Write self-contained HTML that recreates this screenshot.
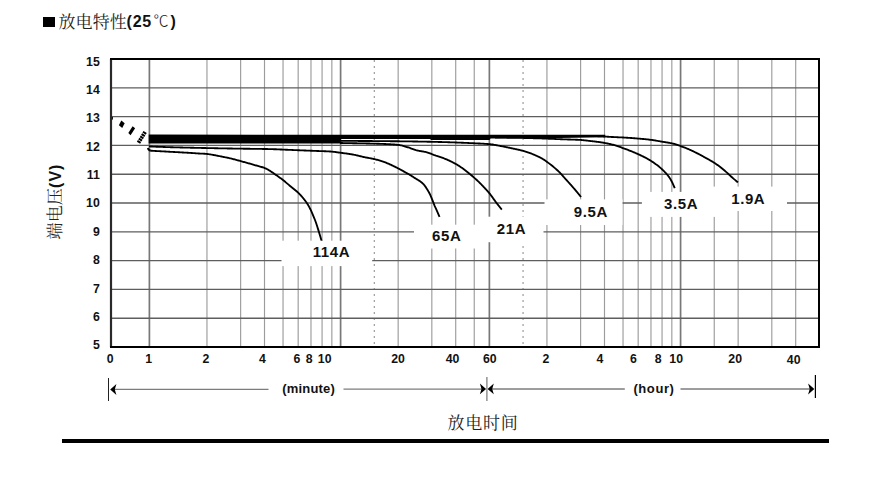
<!DOCTYPE html>
<html><head><meta charset="utf-8"><style>
html,body{margin:0;padding:0;background:#fff;width:880px;height:482px;overflow:hidden}
svg{position:absolute;left:0;top:0}
.ax{font-family:"Liberation Sans",Arial,sans-serif;font-weight:bold;font-size:12.3px;fill:#111}
.cl{font-family:"Liberation Sans",Arial,sans-serif;font-weight:bold;font-size:15px;fill:#111;letter-spacing:0.6px}
.mh{font-family:"Liberation Sans",Arial,sans-serif;font-weight:bold;font-size:13px;fill:#111;letter-spacing:0.4px}
.t{position:absolute;white-space:nowrap;color:#111;line-height:1}
.cj{font-family:"Liberation Serif","Noto Serif CJK SC",serif;font-size:17px;color:#222}
.bd{font-family:"Liberation Sans",Arial,sans-serif;font-weight:bold;font-size:16px}
#sq{position:absolute;left:43.1px;top:16.6px;width:11.6px;height:10.3px;background:#000}
#ylab{left:17.5px;top:194.1px;width:74px;transform:rotate(-90deg);transform-origin:center center}
#rule{position:absolute;left:62px;top:439px;width:767px;height:4px;background:#000}
</style></head><body>
<div id="sq"></div>
<div class="t cj" style="left:58.5px;top:13.5px;letter-spacing:0.1px">放电特性</div>
<div class="t bd" style="left:126.5px;top:14.4px;letter-spacing:0.8px">(25</div>
<div class="t" style="left:153.6px;top:13px;font-family:'Liberation Sans','Noto Sans CJK SC',sans-serif;font-size:15px;font-weight:300">℃</div>
<div class="t bd" style="left:170.4px;top:14.4px">)</div>
<div class="t" id="ylab"><span class="cj" style="letter-spacing:0.2px">端电压</span><span class="bd" style="letter-spacing:1px">(V)</span></div>
<svg width="880" height="482" viewBox="0 0 880 482">
<line x1="206.96" y1="59" x2="206.96" y2="347" stroke="#9c9c9c" stroke-width="1.15"/>
<line x1="240.63" y1="59" x2="240.63" y2="347" stroke="#9c9c9c" stroke-width="1.15"/>
<line x1="264.51" y1="59" x2="264.51" y2="347" stroke="#9c9c9c" stroke-width="1.15"/>
<line x1="283.04" y1="59" x2="283.04" y2="347" stroke="#9c9c9c" stroke-width="1.15"/>
<line x1="298.18" y1="59" x2="298.18" y2="347" stroke="#9c9c9c" stroke-width="1.15"/>
<line x1="310.98" y1="59" x2="310.98" y2="347" stroke="#9c9c9c" stroke-width="1.15"/>
<line x1="322.07" y1="59" x2="322.07" y2="347" stroke="#9c9c9c" stroke-width="1.15"/>
<line x1="331.85" y1="59" x2="331.85" y2="347" stroke="#9c9c9c" stroke-width="1.15"/>
<line x1="398.16" y1="59" x2="398.16" y2="347" stroke="#9c9c9c" stroke-width="1.15"/>
<line x1="431.83" y1="59" x2="431.83" y2="347" stroke="#9c9c9c" stroke-width="1.15"/>
<line x1="455.71" y1="59" x2="455.71" y2="347" stroke="#9c9c9c" stroke-width="1.15"/>
<line x1="474.24" y1="59" x2="474.24" y2="347" stroke="#9c9c9c" stroke-width="1.15"/>
<line x1="546.94" y1="59" x2="546.94" y2="347" stroke="#9c9c9c" stroke-width="1.15"/>
<line x1="580.61" y1="59" x2="580.61" y2="347" stroke="#9c9c9c" stroke-width="1.15"/>
<line x1="604.50" y1="59" x2="604.50" y2="347" stroke="#9c9c9c" stroke-width="1.15"/>
<line x1="623.03" y1="59" x2="623.03" y2="347" stroke="#9c9c9c" stroke-width="1.15"/>
<line x1="638.17" y1="59" x2="638.17" y2="347" stroke="#9c9c9c" stroke-width="1.15"/>
<line x1="650.97" y1="59" x2="650.97" y2="347" stroke="#9c9c9c" stroke-width="1.15"/>
<line x1="662.05" y1="59" x2="662.05" y2="347" stroke="#9c9c9c" stroke-width="1.15"/>
<line x1="671.83" y1="59" x2="671.83" y2="347" stroke="#9c9c9c" stroke-width="1.15"/>
<line x1="714.25" y1="59" x2="714.25" y2="347" stroke="#9c9c9c" stroke-width="1.15"/>
<line x1="738.14" y1="59" x2="738.14" y2="347" stroke="#9c9c9c" stroke-width="1.15"/>
<line x1="771.81" y1="59" x2="771.81" y2="347" stroke="#9c9c9c" stroke-width="1.15"/>
<line x1="795.70" y1="59" x2="795.70" y2="347" stroke="#9c9c9c" stroke-width="1.15"/>
<line x1="149.40" y1="59" x2="149.40" y2="347" stroke="#787878" stroke-width="1.7"/>
<line x1="340.60" y1="59" x2="340.60" y2="347" stroke="#787878" stroke-width="1.7"/>
<line x1="489.38" y1="59" x2="489.38" y2="347" stroke="#787878" stroke-width="1.7"/>
<line x1="680.58" y1="59" x2="680.58" y2="347" stroke="#787878" stroke-width="1.7"/>
<line x1="374.27" y1="60" x2="374.27" y2="346" stroke="#888" stroke-width="1" stroke-dasharray="2 4"/>
<line x1="523.05" y1="60" x2="523.05" y2="346" stroke="#888" stroke-width="1" stroke-dasharray="2 4"/>
<line x1="111" y1="318.20" x2="819" y2="318.20" stroke="#5e5e5e" stroke-width="1.35"/>
<line x1="111" y1="289.40" x2="819" y2="289.40" stroke="#5e5e5e" stroke-width="1.35"/>
<line x1="111" y1="260.60" x2="819" y2="260.60" stroke="#5e5e5e" stroke-width="1.35"/>
<line x1="111" y1="231.80" x2="819" y2="231.80" stroke="#5e5e5e" stroke-width="1.35"/>
<line x1="111" y1="203.00" x2="819" y2="203.00" stroke="#5e5e5e" stroke-width="1.35"/>
<line x1="111" y1="174.20" x2="819" y2="174.20" stroke="#5e5e5e" stroke-width="1.35"/>
<line x1="111" y1="145.40" x2="819" y2="145.40" stroke="#5e5e5e" stroke-width="1.35"/>
<line x1="111" y1="116.60" x2="819" y2="116.60" stroke="#5e5e5e" stroke-width="1.35"/>
<line x1="111" y1="87.80" x2="819" y2="87.80" stroke="#5e5e5e" stroke-width="1.35"/>
<polygon points="148.7,134.6 605.3,134.8 605.3,137.3 560.0,137.9 490.5,138.5 489.5,139.9 431.0,139.9 430.0,139.0 341.0,139.0 340.5,143.4 148.7,143.4" fill="#000"/>
<path d="M150.50,150.70 L151.30,150.74 L152.10,150.79 L152.90,150.83 L153.70,150.87 L154.49,150.92 L155.29,150.96 L156.09,151.00 L156.89,151.05 L157.69,151.09 L158.49,151.14 L159.29,151.18 L160.09,151.22 L160.88,151.27 L161.68,151.31 L162.48,151.36 L163.28,151.40 L164.08,151.44 L164.88,151.49 L165.68,151.53 L166.48,151.58 L167.27,151.62 L168.07,151.66 L168.87,151.71 L169.67,151.75 L170.47,151.80 L171.27,151.84 L172.07,151.89 L172.87,151.93 L173.66,151.98 L174.46,152.02 L175.26,152.06 L176.06,152.11 L176.86,152.15 L177.66,152.20 L178.46,152.24 L179.26,152.28 L180.06,152.33 L180.85,152.37 L181.65,152.42 L182.45,152.46 L183.25,152.50 L184.05,152.55 L184.85,152.60 L185.65,152.64 L186.45,152.69 L187.24,152.73 L188.04,152.78 L188.84,152.83 L189.64,152.88 L190.44,152.93 L191.24,152.98 L192.03,153.03 L192.83,153.08 L193.63,153.14 L194.43,153.19 L195.23,153.25 L196.03,153.30 L196.82,153.36 L197.62,153.41 L198.42,153.46 L199.22,153.51 L200.02,153.55 L200.82,153.59 L201.62,153.63 L202.41,153.67 L203.21,153.70 L204.01,153.74 L204.81,153.79 L205.61,153.84 L206.41,153.90 L207.20,153.98 L208.00,154.07 L208.79,154.18 L209.58,154.30 L210.37,154.43 L211.16,154.57 L211.95,154.71 L212.73,154.85 L213.52,154.99 L214.31,155.12 L215.10,155.27 L215.88,155.41 L216.67,155.57 L217.45,155.72 L218.24,155.88 L219.02,156.04 L219.81,156.19 L220.59,156.35 L221.37,156.51 L222.16,156.67 L222.94,156.83 L223.73,156.99 L224.51,157.14 L225.30,157.30 L226.08,157.46 L226.86,157.62 L227.65,157.78 L228.43,157.95 L229.21,158.12 L229.99,158.29 L230.77,158.47 L231.55,158.65 L232.33,158.84 L233.10,159.04 L233.88,159.24 L234.65,159.44 L235.43,159.65 L236.20,159.85 L236.97,160.06 L237.74,160.28 L238.51,160.50 L239.28,160.71 L240.05,160.93 L240.82,161.15 L241.59,161.37 L242.36,161.58 L243.13,161.80 L243.90,162.01 L244.67,162.23 L245.44,162.44 L246.21,162.66 L246.98,162.87 L247.76,163.09 L248.53,163.30 L249.30,163.51 L250.07,163.73 L250.84,163.94 L251.61,164.16 L252.38,164.38 L253.15,164.61 L253.91,164.83 L254.68,165.05 L255.45,165.27 L256.22,165.49 L256.99,165.70 L257.76,165.92 L258.54,166.13 L259.31,166.34 L260.08,166.56 L260.84,166.78 L261.61,167.01 L262.38,167.24 L263.14,167.48 L263.90,167.74 L264.65,168.02 L265.38,168.33 L266.11,168.67 L266.82,169.04 L267.52,169.41 L268.22,169.80 L268.92,170.20 L269.60,170.62 L270.27,171.05 L270.94,171.49 L271.60,171.94 L272.27,172.38 L272.93,172.84 L273.58,173.30 L274.23,173.76 L274.89,174.22 L275.55,174.68 L276.21,175.13 L276.87,175.58 L277.53,176.03 L278.19,176.48 L278.84,176.94 L279.49,177.41 L280.14,177.88 L280.78,178.36 L281.42,178.84 L282.05,179.33 L282.68,179.82 L283.31,180.31 L283.94,180.81 L284.56,181.32 L285.18,181.82 L285.79,182.34 L286.40,182.85 L287.01,183.37 L287.63,183.88 L288.24,184.40 L288.85,184.91 L289.47,185.42 L290.09,185.93 L290.71,186.43 L291.33,186.94 L291.95,187.44 L292.57,187.95 L293.19,188.45 L293.80,188.97 L294.42,189.48 L295.03,190.00 L295.64,190.51 L296.25,191.03 L296.86,191.55 L297.46,192.07 L298.06,192.61 L298.64,193.16 L299.21,193.71 L299.77,194.28 L300.32,194.87 L300.86,195.46 L301.39,196.06 L301.91,196.66 L302.43,197.27 L302.94,197.89 L303.45,198.51 L303.95,199.13 L304.45,199.76 L304.94,200.39 L305.43,201.02 L305.90,201.67 L306.37,202.32 L306.82,202.98 L307.26,203.64 L307.69,204.32 L308.10,205.01 L308.50,205.70 L308.89,206.40 L309.27,207.10 L309.64,207.81 L310.01,208.52 L310.37,209.24 L310.72,209.96 L311.06,210.68 L311.39,211.41 L311.71,212.14 L312.03,212.87 L312.35,213.61 L312.66,214.34 L312.98,215.08 L313.29,215.82 L313.60,216.55 L313.91,217.29 L314.21,218.03 L314.51,218.77 L314.80,219.52 L315.09,220.27 L315.37,221.02 L315.64,221.77 L315.91,222.52 L316.17,223.28 L316.42,224.04 L316.67,224.80 L316.92,225.56 L317.17,226.32 L317.41,227.08 L317.66,227.84 L317.90,228.60 L318.14,229.37 L318.38,230.13 L318.62,230.89 L318.86,231.66 L319.09,232.42 L319.32,233.19 L319.55,233.95 L319.78,234.72 L320.00,235.49 L320.23,236.26 L320.45,237.03 L320.67,237.80 L320.89,238.57 L321.10,239.34 L321.32,240.11 L321.53,240.88 L321.70,241.50" fill="none" stroke="#000" stroke-width="1.85" stroke-linejoin="round"/>
<path d="M149.00,146.40 L149.80,146.44 L150.60,146.47 L151.40,146.51 L152.20,146.54 L153.00,146.57 L153.80,146.61 L154.59,146.64 L155.39,146.68 L156.19,146.71 L156.99,146.74 L157.79,146.77 L158.59,146.80 L159.39,146.83 L160.19,146.86 L160.99,146.89 L161.79,146.92 L162.59,146.95 L163.39,146.98 L164.19,147.01 L164.99,147.04 L165.79,147.07 L166.59,147.09 L167.39,147.12 L168.19,147.14 L168.99,147.17 L169.78,147.19 L170.58,147.22 L171.38,147.24 L172.18,147.26 L172.98,147.29 L173.78,147.31 L174.58,147.33 L175.38,147.35 L176.18,147.37 L176.98,147.39 L177.78,147.41 L178.58,147.43 L179.38,147.45 L180.18,147.47 L180.98,147.49 L181.78,147.51 L182.58,147.53 L183.38,147.55 L184.18,147.57 L184.98,147.59 L185.78,147.60 L186.58,147.62 L187.38,147.64 L188.18,147.66 L188.98,147.68 L189.78,147.70 L190.58,147.71 L191.38,147.73 L192.18,147.75 L192.98,147.77 L193.78,147.78 L194.58,147.80 L195.38,147.82 L196.18,147.84 L196.98,147.85 L197.78,147.87 L198.58,147.89 L199.38,147.91 L200.18,147.92 L200.98,147.94 L201.78,147.96 L202.58,147.97 L203.38,147.99 L204.17,148.01 L204.97,148.02 L205.77,148.04 L206.57,148.06 L207.37,148.07 L208.17,148.09 L208.97,148.11 L209.77,148.12 L210.57,148.14 L211.37,148.16 L212.17,148.17 L212.97,148.19 L213.77,148.20 L214.57,148.22 L215.37,148.23 L216.17,148.25 L216.97,148.27 L217.77,148.28 L218.57,148.30 L219.37,148.31 L220.17,148.33 L220.97,148.34 L221.77,148.36 L222.57,148.37 L223.37,148.39 L224.17,148.40 L224.97,148.42 L225.77,148.43 L226.57,148.45 L227.37,148.46 L228.17,148.47 L228.97,148.49 L229.77,148.50 L230.57,148.52 L231.37,148.53 L232.17,148.54 L232.97,148.56 L233.77,148.57 L234.57,148.58 L235.37,148.60 L236.17,148.61 L236.97,148.62 L237.77,148.64 L238.57,148.65 L239.37,148.66 L240.17,148.67 L240.97,148.68 L241.77,148.69 L242.57,148.70 L243.37,148.71 L244.17,148.72 L244.97,148.73 L245.77,148.74 L246.57,148.75 L247.37,148.76 L248.17,148.77 L248.97,148.78 L249.77,148.79 L250.57,148.80 L251.37,148.81 L252.17,148.82 L252.97,148.83 L253.77,148.84 L254.57,148.85 L255.37,148.86 L256.17,148.87 L256.97,148.88 L257.77,148.89 L258.57,148.90 L259.37,148.91 L260.17,148.92 L260.97,148.93 L261.77,148.95 L262.57,148.96 L263.37,148.97 L264.17,148.99 L264.97,149.00 L265.77,149.01 L266.57,149.03 L267.37,149.04 L268.17,149.06 L268.97,149.08 L269.77,149.09 L270.57,149.11 L271.37,149.13 L272.16,149.16 L272.96,149.18 L273.76,149.21 L274.56,149.23 L275.36,149.26 L276.16,149.29 L276.96,149.33 L277.76,149.36 L278.56,149.39 L279.36,149.43 L280.16,149.46 L280.96,149.50 L281.76,149.53 L282.56,149.57 L283.36,149.61 L284.15,149.64 L284.95,149.68 L285.75,149.72 L286.55,149.75 L287.35,149.79 L288.15,149.82 L288.95,149.86 L289.75,149.89 L290.55,149.92 L291.35,149.95 L292.15,149.99 L292.95,150.02 L293.75,150.05 L294.55,150.08 L295.34,150.11 L296.14,150.15 L296.94,150.18 L297.74,150.21 L298.54,150.24 L299.34,150.27 L300.14,150.31 L300.94,150.34 L301.74,150.37 L302.54,150.40 L303.34,150.43 L304.14,150.47 L304.94,150.50 L305.74,150.53 L306.54,150.56 L307.34,150.59 L308.13,150.63 L308.93,150.66 L309.73,150.69 L310.53,150.72 L311.33,150.75 L312.13,150.79 L312.93,150.82 L313.73,150.85 L314.53,150.88 L315.33,150.91 L316.13,150.94 L316.93,150.97 L317.73,151.00 L318.53,151.03 L319.33,151.05 L320.13,151.08 L320.93,151.11 L321.73,151.13 L322.52,151.16 L323.32,151.19 L324.12,151.22 L324.92,151.25 L325.72,151.28 L326.52,151.32 L327.32,151.35 L328.12,151.39 L328.92,151.44 L329.72,151.48 L330.52,151.53 L331.31,151.60 L332.11,151.67 L332.91,151.75 L333.70,151.84 L334.50,151.93 L335.29,152.03 L336.08,152.14 L336.87,152.25 L337.67,152.36 L338.46,152.47 L339.25,152.58 L340.04,152.69 L340.84,152.79 L341.63,152.90 L342.42,153.00 L343.22,153.10 L344.01,153.21 L344.80,153.31 L345.60,153.42 L346.39,153.53 L347.18,153.64 L347.97,153.75 L348.76,153.87 L349.56,153.98 L350.35,154.11 L351.14,154.23 L351.93,154.36 L352.71,154.50 L353.50,154.64 L354.29,154.79 L355.07,154.95 L355.85,155.12 L356.63,155.29 L357.41,155.48 L358.19,155.66 L358.97,155.85 L359.74,156.05 L360.52,156.24 L361.30,156.43 L362.08,156.62 L362.85,156.80 L363.63,156.98 L364.42,157.15 L365.20,157.31 L365.98,157.47 L366.77,157.62 L367.55,157.77 L368.34,157.92 L369.13,158.06 L369.91,158.21 L370.70,158.36 L371.48,158.51 L372.27,158.67 L373.05,158.84 L373.83,159.01 L374.61,159.18 L375.39,159.37 L376.17,159.57 L376.94,159.77 L377.71,159.98 L378.48,160.20 L379.25,160.42 L380.02,160.65 L380.78,160.89 L381.54,161.13 L382.30,161.38 L383.06,161.64 L383.82,161.90 L384.57,162.16 L385.32,162.44 L386.07,162.73 L386.81,163.03 L387.55,163.33 L388.29,163.65 L389.02,163.97 L389.75,164.29 L390.48,164.62 L391.21,164.95 L391.93,165.30 L392.65,165.64 L393.37,166.00 L394.09,166.35 L394.80,166.70 L395.52,167.06 L396.24,167.41 L396.96,167.76 L397.68,168.11 L398.39,168.47 L399.11,168.83 L399.82,169.20 L400.52,169.58 L401.22,169.97 L401.91,170.37 L402.60,170.77 L403.30,171.17 L403.99,171.58 L404.68,171.98 L405.38,172.37 L406.08,172.76 L406.78,173.14 L407.48,173.52 L408.18,173.91 L408.88,174.30 L409.57,174.70 L410.26,175.12 L410.94,175.54 L411.61,175.97 L412.28,176.40 L412.95,176.84 L413.62,177.28 L414.29,177.71 L414.97,178.14 L415.65,178.56 L416.34,178.97 L417.03,179.37 L417.71,179.78 L418.40,180.20 L419.07,180.63 L419.73,181.08 L420.38,181.55 L421.02,182.03 L421.65,182.52 L422.27,183.03 L422.86,183.57 L423.43,184.13 L423.97,184.72 L424.48,185.34 L424.95,185.98 L425.41,186.64 L425.86,187.30 L426.29,187.97 L426.73,188.64 L427.16,189.32 L427.58,190.00 L427.99,190.68 L428.39,191.38 L428.79,192.07 L429.17,192.78 L429.54,193.48 L429.90,194.20 L430.24,194.92 L430.57,195.65 L430.89,196.38 L431.20,197.12 L431.51,197.86 L431.81,198.60 L432.11,199.34 L432.42,200.08 L432.71,200.82 L433.01,201.57 L433.30,202.31 L433.59,203.06 L433.88,203.81 L434.17,204.55 L434.47,205.29 L434.77,206.03 L435.09,206.77 L435.41,207.50 L435.73,208.23 L436.06,208.96 L436.39,209.69 L436.72,210.42 L437.05,211.15 L437.38,211.88 L437.70,212.61 L438.03,213.34 L438.35,214.07 L438.67,214.80 L439.00,215.53 L439.32,216.27 L439.60,216.90" fill="none" stroke="#000" stroke-width="1.85" stroke-linejoin="round"/>
<path d="M340.00,143.00 L340.80,143.01 L341.60,143.02 L342.40,143.04 L343.20,143.05 L344.00,143.06 L344.80,143.07 L345.60,143.09 L346.40,143.10 L347.20,143.11 L348.00,143.13 L348.80,143.14 L349.60,143.15 L350.40,143.17 L351.20,143.18 L352.00,143.20 L352.80,143.21 L353.60,143.22 L354.40,143.24 L355.20,143.25 L356.00,143.27 L356.80,143.28 L357.60,143.30 L358.40,143.31 L359.20,143.33 L360.00,143.34 L360.80,143.36 L361.60,143.37 L362.40,143.39 L363.20,143.40 L364.00,143.42 L364.80,143.43 L365.60,143.45 L366.40,143.47 L367.20,143.49 L368.00,143.50 L368.80,143.52 L369.60,143.54 L370.39,143.56 L371.19,143.58 L371.99,143.60 L372.79,143.62 L373.59,143.64 L374.39,143.66 L375.19,143.68 L375.99,143.70 L376.79,143.72 L377.59,143.74 L378.39,143.77 L379.19,143.79 L379.99,143.82 L380.79,143.84 L381.59,143.87 L382.39,143.90 L383.19,143.93 L383.99,143.96 L384.79,143.99 L385.59,144.02 L386.39,144.06 L387.19,144.10 L387.98,144.13 L388.78,144.17 L389.58,144.21 L390.38,144.26 L391.18,144.30 L391.98,144.35 L392.78,144.41 L393.58,144.46 L394.37,144.52 L395.17,144.59 L395.97,144.66 L396.76,144.73 L397.56,144.81 L398.36,144.90 L399.15,145.00 L399.94,145.13 L400.72,145.29 L401.50,145.47 L402.28,145.66 L403.05,145.87 L403.82,146.10 L404.58,146.33 L405.35,146.56 L406.11,146.79 L406.88,147.03 L407.65,147.26 L408.41,147.48 L409.17,147.73 L409.93,147.99 L410.68,148.26 L411.44,148.53 L412.19,148.81 L412.94,149.08 L413.69,149.35 L414.45,149.61 L415.21,149.86 L415.97,150.10 L416.74,150.31 L417.52,150.50 L418.30,150.67 L419.09,150.83 L419.87,150.97 L420.66,151.11 L421.45,151.24 L422.24,151.37 L423.03,151.51 L423.82,151.65 L424.60,151.80 L425.38,151.96 L426.16,152.14 L426.94,152.34 L427.70,152.57 L428.47,152.82 L429.22,153.09 L429.97,153.37 L430.71,153.66 L431.46,153.95 L432.20,154.25 L432.94,154.54 L433.69,154.84 L434.44,155.12 L435.19,155.39 L435.95,155.65 L436.71,155.89 L437.48,156.12 L438.24,156.35 L439.01,156.58 L439.77,156.82 L440.53,157.08 L441.28,157.35 L442.03,157.62 L442.78,157.91 L443.53,158.19 L444.27,158.49 L445.01,158.79 L445.75,159.09 L446.49,159.40 L447.23,159.72 L447.96,160.04 L448.69,160.36 L449.42,160.70 L450.14,161.04 L450.86,161.38 L451.58,161.73 L452.30,162.09 L453.01,162.46 L453.72,162.83 L454.42,163.21 L455.12,163.59 L455.82,163.98 L456.51,164.38 L457.20,164.79 L457.88,165.21 L458.56,165.63 L459.23,166.07 L459.90,166.51 L460.57,166.95 L461.23,167.41 L461.88,167.86 L462.54,168.33 L463.19,168.79 L463.83,169.26 L464.48,169.73 L465.12,170.21 L465.76,170.70 L466.39,171.19 L467.01,171.69 L467.63,172.19 L468.25,172.70 L468.87,173.21 L469.48,173.72 L470.09,174.24 L470.71,174.75 L471.32,175.27 L471.93,175.79 L472.54,176.30 L473.15,176.82 L473.75,177.35 L474.35,177.87 L474.95,178.40 L475.55,178.93 L476.15,179.47 L476.74,180.01 L477.32,180.55 L477.91,181.10 L478.49,181.65 L479.06,182.21 L479.63,182.77 L480.20,183.33 L480.76,183.90 L481.32,184.47 L481.88,185.04 L482.44,185.62 L482.99,186.20 L483.54,186.78 L484.09,187.36 L484.64,187.95 L485.18,188.53 L485.72,189.12 L486.27,189.71 L486.80,190.30 L487.34,190.89 L487.87,191.49 L488.39,192.10 L488.91,192.70 L489.43,193.32 L489.93,193.94 L490.43,194.57 L490.91,195.20 L491.39,195.85 L491.86,196.50 L492.32,197.15 L492.78,197.80 L493.24,198.45 L493.70,199.11 L494.17,199.76 L494.64,200.41 L495.11,201.05 L495.59,201.69 L496.08,202.33 L496.56,202.96 L497.05,203.60 L497.54,204.23 L498.03,204.86 L498.52,205.49 L499.02,206.12 L499.51,206.75 L500.01,207.38 L500.51,208.00 L501.01,208.63 L501.51,209.25 L501.80,209.60" fill="none" stroke="#000" stroke-width="1.85" stroke-linejoin="round"/>
<path d="M340.00,140.90 L340.80,140.90 L341.60,140.90 L342.40,140.90 L343.20,140.90 L344.00,140.90 L344.80,140.90 L345.60,140.91 L346.40,140.91 L347.20,140.91 L348.00,140.91 L348.80,140.91 L349.60,140.92 L350.40,140.92 L351.20,140.92 L352.00,140.92 L352.80,140.93 L353.60,140.93 L354.40,140.93 L355.20,140.94 L356.00,140.94 L356.80,140.94 L357.60,140.95 L358.40,140.95 L359.20,140.96 L360.00,140.96 L360.80,140.97 L361.60,140.97 L362.40,140.97 L363.20,140.98 L364.00,140.98 L364.80,140.99 L365.60,141.00 L366.40,141.00 L367.20,141.01 L368.00,141.01 L368.80,141.02 L369.60,141.02 L370.40,141.03 L371.20,141.04 L372.00,141.04 L372.80,141.05 L373.60,141.05 L374.40,141.06 L375.20,141.07 L376.00,141.07 L376.80,141.08 L377.60,141.09 L378.40,141.09 L379.20,141.10 L380.00,141.11 L380.80,141.12 L381.60,141.12 L382.40,141.13 L383.20,141.14 L384.00,141.14 L384.80,141.15 L385.60,141.16 L386.40,141.17 L387.20,141.17 L388.00,141.18 L388.80,141.19 L389.60,141.20 L390.40,141.21 L391.20,141.21 L392.00,141.22 L392.80,141.23 L393.60,141.24 L394.40,141.24 L395.20,141.25 L396.00,141.26 L396.80,141.27 L397.60,141.28 L398.40,141.28 L399.20,141.29 L400.00,141.30 L400.80,141.31 L401.60,141.32 L402.40,141.33 L403.20,141.33 L404.00,141.34 L404.80,141.35 L405.60,141.36 L406.40,141.37 L407.20,141.38 L408.00,141.39 L408.80,141.40 L409.60,141.41 L410.40,141.43 L411.20,141.44 L412.00,141.45 L412.80,141.46 L413.60,141.47 L414.40,141.49 L415.20,141.50 L416.00,141.51 L416.80,141.52 L417.60,141.54 L418.40,141.55 L419.20,141.57 L420.00,141.58 L420.80,141.59 L421.60,141.61 L422.40,141.62 L423.20,141.64 L424.00,141.65 L424.80,141.67 L425.60,141.68 L426.40,141.70 L427.20,141.72 L427.99,141.73 L428.79,141.75 L429.59,141.77 L430.39,141.78 L431.19,141.80 L431.99,141.82 L432.79,141.83 L433.59,141.85 L434.39,141.87 L435.19,141.89 L435.99,141.91 L436.79,141.92 L437.59,141.94 L438.39,141.96 L439.19,141.98 L439.99,142.00 L440.79,142.02 L441.59,142.04 L442.39,142.06 L443.19,142.08 L443.99,142.10 L444.79,142.13 L445.59,142.15 L446.39,142.17 L447.19,142.20 L447.99,142.22 L448.79,142.24 L449.59,142.27 L450.39,142.30 L451.19,142.32 L451.99,142.35 L452.79,142.38 L453.59,142.40 L454.39,142.43 L455.18,142.46 L455.98,142.49 L456.78,142.52 L457.58,142.55 L458.38,142.58 L459.18,142.61 L459.98,142.64 L460.78,142.68 L461.58,142.71 L462.38,142.74 L463.18,142.77 L463.98,142.81 L464.78,142.84 L465.58,142.87 L466.38,142.91 L467.18,142.94 L467.97,142.98 L468.77,143.01 L469.57,143.05 L470.37,143.09 L471.17,143.12 L471.97,143.16 L472.77,143.20 L473.57,143.23 L474.37,143.27 L475.17,143.31 L475.97,143.35 L476.77,143.38 L477.56,143.42 L478.36,143.46 L479.16,143.50 L479.96,143.54 L480.76,143.58 L481.56,143.62 L482.36,143.66 L483.16,143.70 L483.96,143.75 L484.75,143.80 L485.55,143.85 L486.35,143.91 L487.15,143.97 L487.95,144.03 L488.74,144.09 L489.54,144.16 L490.34,144.23 L491.13,144.32 L491.93,144.42 L492.72,144.53 L493.51,144.66 L494.30,144.79 L495.08,144.93 L495.87,145.08 L496.66,145.23 L497.44,145.39 L498.23,145.54 L499.01,145.69 L499.80,145.85 L500.58,146.00 L501.37,146.15 L502.15,146.30 L502.94,146.45 L503.72,146.61 L504.51,146.77 L505.29,146.93 L506.07,147.10 L506.86,147.26 L507.64,147.43 L508.42,147.60 L509.20,147.77 L509.98,147.94 L510.77,148.11 L511.55,148.27 L512.33,148.44 L513.11,148.61 L513.90,148.77 L514.68,148.93 L515.46,149.09 L516.25,149.26 L517.03,149.42 L517.81,149.59 L518.59,149.77 L519.37,149.94 L520.15,150.12 L520.93,150.31 L521.71,150.51 L522.48,150.71 L523.25,150.91 L524.02,151.13 L524.79,151.36 L525.55,151.59 L526.32,151.83 L527.08,152.08 L527.83,152.34 L528.59,152.60 L529.34,152.87 L530.09,153.15 L530.84,153.43 L531.59,153.72 L532.33,154.01 L533.08,154.31 L533.82,154.61 L534.56,154.92 L535.29,155.23 L536.02,155.55 L536.75,155.88 L537.48,156.22 L538.20,156.57 L538.92,156.92 L539.63,157.28 L540.34,157.65 L541.04,158.03 L541.74,158.42 L542.44,158.81 L543.13,159.22 L543.81,159.63 L544.49,160.07 L545.15,160.51 L545.81,160.97 L546.46,161.43 L547.10,161.91 L547.74,162.39 L548.38,162.87 L549.01,163.36 L549.64,163.85 L550.27,164.35 L550.90,164.84 L551.53,165.34 L552.15,165.84 L552.78,166.34 L553.40,166.84 L554.02,167.35 L554.63,167.87 L555.24,168.38 L555.84,168.91 L556.44,169.43 L557.04,169.97 L557.63,170.51 L558.22,171.05 L558.80,171.61 L559.37,172.16 L559.93,172.73 L560.48,173.31 L561.02,173.90 L561.56,174.49 L562.09,175.09 L562.62,175.69 L563.15,176.30 L563.67,176.90 L564.20,177.50 L564.72,178.10 L565.25,178.70 L565.79,179.30 L566.33,179.89 L566.87,180.48 L567.41,181.07 L567.95,181.66 L568.49,182.25 L569.03,182.84 L569.57,183.43 L570.10,184.03 L570.64,184.62 L571.17,185.22 L571.70,185.82 L572.23,186.42 L572.75,187.02 L573.27,187.63 L573.80,188.24 L574.31,188.85 L574.83,189.46 L575.35,190.07 L575.86,190.68 L576.37,191.29 L576.88,191.91 L577.39,192.53 L577.90,193.15 L578.41,193.77 L578.91,194.39 L579.41,195.01 L579.91,195.63 L580.41,196.26 L580.91,196.89 L581.00,197.00" fill="none" stroke="#000" stroke-width="1.85" stroke-linejoin="round"/>
<path d="M495.00,137.60 L495.80,137.60 L496.60,137.61 L497.40,137.61 L498.20,137.62 L499.00,137.63 L499.80,137.63 L500.60,137.64 L501.40,137.65 L502.20,137.65 L503.00,137.66 L503.80,137.67 L504.60,137.68 L505.40,137.69 L506.20,137.70 L507.00,137.71 L507.80,137.72 L508.60,137.73 L509.40,137.74 L510.20,137.75 L511.00,137.76 L511.80,137.77 L512.60,137.78 L513.40,137.80 L514.20,137.81 L515.00,137.82 L515.80,137.83 L516.60,137.85 L517.40,137.86 L518.20,137.87 L519.00,137.88 L519.80,137.90 L520.60,137.91 L521.40,137.92 L522.20,137.94 L523.00,137.95 L523.80,137.97 L524.60,137.99 L525.40,138.00 L526.20,138.02 L527.00,138.04 L527.80,138.06 L528.60,138.08 L529.40,138.10 L530.20,138.12 L531.00,138.14 L531.80,138.16 L532.59,138.18 L533.39,138.21 L534.19,138.23 L534.99,138.25 L535.79,138.27 L536.59,138.30 L537.39,138.32 L538.19,138.35 L538.99,138.37 L539.79,138.39 L540.59,138.42 L541.39,138.44 L542.19,138.47 L542.99,138.50 L543.79,138.53 L544.59,138.56 L545.39,138.59 L546.19,138.62 L546.99,138.65 L547.79,138.68 L548.59,138.72 L549.39,138.75 L550.18,138.78 L550.98,138.82 L551.78,138.85 L552.58,138.88 L553.38,138.92 L554.18,138.95 L554.98,138.99 L555.78,139.02 L556.58,139.05 L557.38,139.09 L558.18,139.12 L558.98,139.15 L559.78,139.19 L560.58,139.22 L561.37,139.25 L562.17,139.28 L562.97,139.31 L563.77,139.34 L564.57,139.37 L565.37,139.39 L566.17,139.42 L566.97,139.44 L567.77,139.46 L568.57,139.49 L569.37,139.51 L570.17,139.53 L570.97,139.55 L571.77,139.58 L572.57,139.60 L573.37,139.63 L574.17,139.66 L574.97,139.68 L575.77,139.71 L576.57,139.75 L577.37,139.78 L578.16,139.82 L578.96,139.86 L579.76,139.90 L580.56,139.95 L581.36,140.01 L582.16,140.07 L582.95,140.15 L583.75,140.23 L584.54,140.32 L585.34,140.41 L586.13,140.50 L586.93,140.60 L587.72,140.70 L588.51,140.80 L589.31,140.90 L590.10,140.99 L590.90,141.09 L591.69,141.18 L592.49,141.27 L593.28,141.36 L594.08,141.45 L594.87,141.54 L595.67,141.63 L596.46,141.73 L597.25,141.83 L598.05,141.93 L598.84,142.03 L599.63,142.15 L600.42,142.26 L601.22,142.38 L602.01,142.51 L602.79,142.64 L603.58,142.77 L604.37,142.91 L605.16,143.05 L605.95,143.20 L606.73,143.35 L607.52,143.51 L608.30,143.67 L609.08,143.84 L609.86,144.01 L610.64,144.18 L611.42,144.36 L612.20,144.55 L612.98,144.75 L613.75,144.95 L614.52,145.17 L615.29,145.40 L616.05,145.64 L616.81,145.88 L617.57,146.14 L618.33,146.40 L619.08,146.66 L619.83,146.93 L620.59,147.21 L621.34,147.48 L622.09,147.76 L622.84,148.04 L623.59,148.32 L624.34,148.59 L625.09,148.87 L625.84,149.15 L626.59,149.43 L627.34,149.71 L628.08,149.99 L628.83,150.28 L629.57,150.57 L630.32,150.87 L631.06,151.16 L631.80,151.46 L632.54,151.77 L633.28,152.07 L634.02,152.38 L634.76,152.69 L635.49,153.01 L636.23,153.33 L636.96,153.65 L637.69,153.97 L638.42,154.30 L639.15,154.63 L639.88,154.96 L640.60,155.30 L641.33,155.64 L642.05,155.99 L642.77,156.34 L643.49,156.69 L644.20,157.05 L644.91,157.42 L645.62,157.79 L646.32,158.16 L647.03,158.55 L647.72,158.94 L648.42,159.34 L649.11,159.74 L649.80,160.15 L650.48,160.57 L651.16,160.99 L651.83,161.42 L652.50,161.86 L653.17,162.30 L653.83,162.75 L654.48,163.21 L655.14,163.67 L655.79,164.14 L656.43,164.62 L657.07,165.10 L657.70,165.59 L658.33,166.09 L658.95,166.59 L659.57,167.10 L660.17,167.62 L660.78,168.14 L661.37,168.68 L661.96,169.22 L662.54,169.77 L663.12,170.32 L663.69,170.89 L664.25,171.45 L664.81,172.03 L665.37,172.60 L665.91,173.19 L666.44,173.78 L666.97,174.39 L667.48,175.00 L667.98,175.63 L668.47,176.26 L668.94,176.91 L669.40,177.56 L669.85,178.23 L670.28,178.90 L670.69,179.59 L671.08,180.29 L671.46,180.99 L671.83,181.70 L672.19,182.41 L672.54,183.13 L672.88,183.86 L673.22,184.58 L673.55,185.31 L673.87,186.04 L674.19,186.78 L674.51,187.51 L674.80,188.20" fill="none" stroke="#000" stroke-width="1.85" stroke-linejoin="round"/>
<path d="M590.00,135.90 L590.80,135.93 L591.60,135.95 L592.40,135.98 L593.20,136.01 L594.00,136.04 L594.80,136.07 L595.60,136.11 L596.40,136.14 L597.19,136.17 L597.99,136.21 L598.79,136.24 L599.59,136.28 L600.39,136.32 L601.19,136.36 L601.99,136.40 L602.79,136.44 L603.59,136.49 L604.39,136.53 L605.18,136.58 L605.98,136.63 L606.78,136.68 L607.58,136.72 L608.38,136.77 L609.18,136.82 L609.98,136.87 L610.77,136.91 L611.57,136.96 L612.37,137.00 L613.17,137.04 L613.97,137.08 L614.77,137.12 L615.57,137.15 L616.37,137.19 L617.17,137.22 L617.97,137.26 L618.77,137.30 L619.56,137.33 L620.36,137.37 L621.16,137.41 L621.96,137.44 L622.76,137.48 L623.56,137.53 L624.36,137.57 L625.16,137.61 L625.96,137.66 L626.75,137.71 L627.55,137.76 L628.35,137.82 L629.15,137.87 L629.95,137.93 L630.74,137.99 L631.54,138.04 L632.34,138.10 L633.14,138.17 L633.94,138.23 L634.73,138.29 L635.53,138.36 L636.33,138.42 L637.13,138.49 L637.92,138.55 L638.72,138.62 L639.52,138.68 L640.31,138.75 L641.11,138.82 L641.91,138.89 L642.70,138.96 L643.50,139.04 L644.30,139.11 L645.09,139.19 L645.89,139.27 L646.69,139.35 L647.48,139.44 L648.28,139.52 L649.07,139.61 L649.87,139.71 L650.66,139.81 L651.45,139.91 L652.24,140.03 L653.04,140.15 L653.83,140.27 L654.62,140.40 L655.41,140.53 L656.19,140.66 L656.98,140.80 L657.77,140.93 L658.56,141.07 L659.35,141.21 L660.13,141.35 L660.92,141.48 L661.71,141.62 L662.50,141.75 L663.29,141.88 L664.08,142.00 L664.87,142.12 L665.66,142.25 L666.45,142.37 L667.24,142.49 L668.03,142.62 L668.82,142.76 L669.61,142.90 L670.39,143.04 L671.18,143.20 L671.96,143.37 L672.74,143.55 L673.52,143.75 L674.29,143.96 L675.05,144.19 L675.82,144.43 L676.58,144.68 L677.33,144.94 L678.09,145.20 L678.84,145.46 L679.60,145.73 L680.35,146.00 L681.11,146.27 L681.86,146.53 L682.61,146.81 L683.36,147.09 L684.11,147.37 L684.86,147.66 L685.60,147.95 L686.34,148.25 L687.08,148.56 L687.82,148.87 L688.56,149.18 L689.29,149.50 L690.02,149.83 L690.75,150.16 L691.47,150.50 L692.19,150.84 L692.92,151.19 L693.64,151.54 L694.35,151.89 L695.07,152.24 L695.79,152.59 L696.51,152.95 L697.22,153.31 L697.93,153.68 L698.64,154.05 L699.35,154.42 L700.06,154.79 L700.76,155.17 L701.47,155.55 L702.17,155.92 L702.88,156.31 L703.58,156.69 L704.28,157.07 L704.98,157.45 L705.69,157.84 L706.39,158.22 L707.09,158.61 L707.79,158.99 L708.49,159.39 L709.18,159.78 L709.88,160.18 L710.57,160.58 L711.26,160.99 L711.94,161.40 L712.63,161.82 L713.30,162.24 L713.98,162.66 L714.65,163.10 L715.33,163.53 L715.99,163.98 L716.65,164.42 L717.31,164.88 L717.97,165.34 L718.62,165.80 L719.26,166.27 L719.91,166.75 L720.54,167.24 L721.17,167.74 L721.79,168.24 L722.41,168.75 L723.02,169.26 L723.63,169.78 L724.24,170.29 L724.85,170.82 L725.45,171.34 L726.06,171.86 L726.66,172.39 L727.25,172.93 L727.84,173.47 L728.43,174.01 L729.01,174.56 L729.59,175.11 L730.18,175.66 L730.76,176.20 L731.35,176.74 L731.95,177.28 L732.55,177.81 L733.15,178.33 L733.76,178.85 L734.36,179.38 L734.97,179.89 L735.59,180.41 L736.20,180.92 L736.82,181.43 L737.43,181.94 L738.00,182.40" fill="none" stroke="#000" stroke-width="1.85" stroke-linejoin="round"/>
<path d="M147.9,148.0 Q148.3,150.3 150.8,150.75" fill="none" stroke="#000" stroke-width="1.9"/>
<rect x="111.2" y="116.9" width="1.7" height="2.7" fill="#000"/>
<polygon points="121.3,120.6 124.7,123.2 122.2,127.9 118.9,125.2" fill="#000"/>
<polygon points="132.6,126.3 135.1,128.3 130.6,135.3 128.3,132.9" fill="#000"/>
<line x1="142.98" y1="131.79" x2="146.22" y2="133.81" stroke="#000" stroke-width="1.95"/>
<line x1="141.58" y1="134.07" x2="144.81" y2="136.08" stroke="#000" stroke-width="1.95"/>
<line x1="140.19" y1="136.34" x2="143.42" y2="138.36" stroke="#000" stroke-width="1.95"/>
<line x1="138.78" y1="138.62" x2="142.02" y2="140.63" stroke="#000" stroke-width="1.95"/>
<line x1="137.38" y1="140.89" x2="140.62" y2="142.91" stroke="#000" stroke-width="1.95"/>
<rect x="281.5" y="240.7" width="90.7" height="25.4" fill="#fff"/>
<rect x="414" y="224.7" width="65.0" height="23.8" fill="#fff"/>
<rect x="479" y="216.7" width="64.5" height="25.5" fill="#fff"/>
<rect x="544.5" y="199.4" width="78.0" height="25.6" fill="#fff"/>
<rect x="641.9" y="191.9" width="77.8" height="25.0" fill="#fff"/>
<rect x="708.6" y="186.6" width="78.4" height="24.4" fill="#fff"/>
<text x="312.7" y="257" class="cl">114A</text>
<text x="432.0" y="241" class="cl">65A</text>
<text x="496.8" y="234" class="cl">21A</text>
<text x="573.8" y="217.1" class="cl">9.5A</text>
<text x="664.1" y="209" class="cl">3.5A</text>
<text x="731.2" y="204" class="cl">1.9A</text>
<path d="M111,347 L111,59" stroke="#2a2a2a" stroke-width="2.2" fill="none"/>
<path d="M110,59 L819,59 L819,347 L110,347" stroke="#000" stroke-width="2" fill="none"/>
<text x="99.8" y="349.2" class="ax" text-anchor="end">5</text>
<text x="99.8" y="320.9" class="ax" text-anchor="end">6</text>
<text x="99.8" y="292.5" class="ax" text-anchor="end">7</text>
<text x="99.8" y="264.2" class="ax" text-anchor="end">8</text>
<text x="99.8" y="235.8" class="ax" text-anchor="end">9</text>
<text x="99.8" y="207.4" class="ax" text-anchor="end">10</text>
<text x="99.8" y="179.1" class="ax" text-anchor="end">11</text>
<text x="99.8" y="150.8" class="ax" text-anchor="end">12</text>
<text x="99.8" y="122.4" class="ax" text-anchor="end">13</text>
<text x="99.8" y="94.1" class="ax" text-anchor="end">14</text>
<text x="99.8" y="65.7" class="ax" text-anchor="end">15</text>
<text x="110.2" y="362.8" class="ax" text-anchor="middle">0</text>
<text x="148.6" y="362.8" class="ax" text-anchor="middle">1</text>
<text x="205.8" y="362.8" class="ax" text-anchor="middle">2</text>
<text x="262.5" y="362.8" class="ax" text-anchor="middle">4</text>
<text x="296.8" y="362.8" class="ax" text-anchor="middle">6</text>
<text x="309.1" y="362.8" class="ax" text-anchor="middle">8</text>
<text x="324.7" y="362.8" class="ax" text-anchor="middle">10</text>
<text x="398.1" y="362.8" class="ax" text-anchor="middle">20</text>
<text x="452.5" y="362.8" class="ax" text-anchor="middle">40</text>
<text x="489.8" y="362.8" class="ax" text-anchor="middle">60</text>
<text x="546.0" y="362.8" class="ax" text-anchor="middle">2</text>
<text x="600.0" y="362.8" class="ax" text-anchor="middle">4</text>
<text x="633.5" y="362.8" class="ax" text-anchor="middle">6</text>
<text x="658.1" y="362.8" class="ax" text-anchor="middle">8</text>
<text x="676.2" y="362.8" class="ax" text-anchor="middle">10</text>
<text x="735.2" y="362.8" class="ax" text-anchor="middle">20</text>
<text x="793.7" y="363.8" class="ax" text-anchor="middle">40</text>
<line x1="108.5" y1="378" x2="108.5" y2="401" stroke="#222" stroke-width="1"/>
<line x1="486.9" y1="377" x2="486.9" y2="401" stroke="#777" stroke-width="1.2"/>
<line x1="815.4" y1="375" x2="815.4" y2="398" stroke="#000" stroke-width="1.2"/>
<line x1="113" y1="389.4" x2="268.5" y2="389.4" stroke="#7c7c7c" stroke-width="1.3"/>
<line x1="343.5" y1="389.2" x2="483" y2="389.2" stroke="#7c7c7c" stroke-width="1.3"/>
<line x1="491" y1="389" x2="624.8" y2="389" stroke="#7c7c7c" stroke-width="1.3"/>
<line x1="680.5" y1="389" x2="811" y2="389" stroke="#7c7c7c" stroke-width="1.3"/>
<polygon points="110.2,389.5 116.4,384.1 114.8,389.5 116.4,394.9" fill="#000"/>
<polygon points="486.1,388.9 479.90000000000003,383.5 481.5,388.9 479.90000000000003,394.29999999999995" fill="#000"/>
<polygon points="487.6,388.9 493.8,383.5 492.20000000000005,388.9 493.8,394.29999999999995" fill="#000"/>
<polygon points="814.3,389 808.0999999999999,383.6 809.6999999999999,389 808.0999999999999,394.4" fill="#000"/>
<text x="282.2" y="393.3" class="mh" style="letter-spacing:0.2px">(minute)</text>
<text x="633.4" y="393.3" class="mh" style="letter-spacing:0.6px">(hour)</text>
</svg>
<div class="t cj" style="left:447.6px;top:415.3px;letter-spacing:0.7px">放电时间</div>
<div id="rule"></div>
</body></html>
